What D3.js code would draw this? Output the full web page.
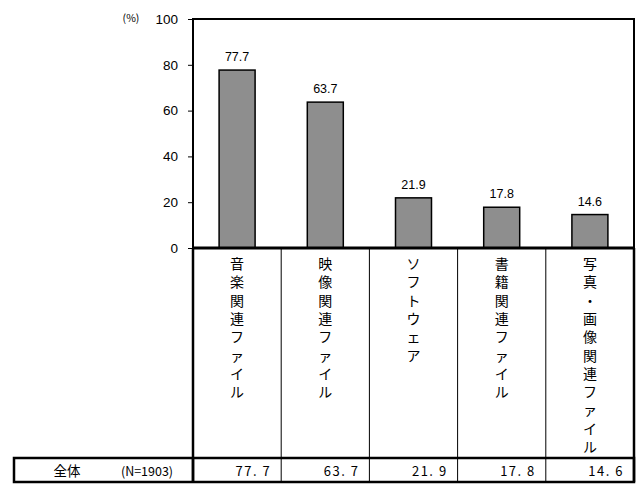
<!DOCTYPE html>
<html><head><meta charset="utf-8">
<script src="https://cdn.jsdelivr.net/npm/d3@7"></script>
<style>
html,body{margin:0;padding:0;background:#fff;}
svg{display:block;}
</style></head>
<body>
<svg id="c" width="640" height="486"></svg>
<script>
const categories = ["音楽関連ファイル", "映像関連ファイル", "ソフトウェア", "書籍関連ファイル", "写真・画像関連ファイル"];
const values = [77.7, 63.7, 21.9, 17.8, 14.6];
const yTicks = [0, 20, 40, 60, 80, 100];
const rowLabel = "全体";
const rowN = "(N=1903)";
const unitLabel = "(%)";

(function () {
const svg = d3.select("#c");
const pL = 193, pR = 634, pT = 19, pB = 248;
const tableTop = 458, tableBottom = 482, tableLeft = 14;
const latin = "'Liberation Sans', Arial, sans-serif";
const cjk = "'Noto Sans CJK JP', sans-serif";

const x = d3.scaleBand().domain(categories).range([pL, pR]).paddingInner(0).paddingOuter(0);
const y = d3.scaleLinear().domain([0, 100]).range([pB, pT]);
const barW = 36;

// Y axis
const yAxis = d3.axisLeft(y).tickValues(yTicks).tickSize(5).tickPadding(10);
const ga = svg.append("g").attr("transform", `translate(${pL},0)`).call(yAxis);
ga.select(".domain").remove();
ga.selectAll(".tick line").attr("stroke", "#000").attr("stroke-width", 1);
ga.selectAll(".tick text").attr("font-family", latin).attr("font-size", 13.5).attr("fill", "#000");

svg.append("text").attr("x", 131).attr("y", 22).attr("text-anchor", "middle")
  .attr("font-family", cjk).attr("font-size", 10.5).attr("fill", "#000").text(unitLabel);

// Bars
svg.append("g").selectAll("rect").data(values).join("rect")
  .attr("x", (d, i) => x(categories[i]) + x.bandwidth() / 2 - barW / 2)
  .attr("y", d => y(d))
  .attr("width", barW)
  .attr("height", d => y(0) - y(d))
  .attr("fill", "#8e8e8e").attr("stroke", "#000").attr("stroke-width", 1.5);

// Data labels
svg.append("g").selectAll("text").data(values).join("text")
  .attr("x", (d, i) => x(categories[i]) + x.bandwidth() / 2)
  .attr("y", d => y(d) - 9)
  .attr("text-anchor", "middle")
  .attr("font-family", latin).attr("font-size", 12.5).attr("fill", "#000")
  .text(d => d.toFixed(1));

// Plot frame
svg.append("rect").attr("x", pL).attr("y", pT).attr("width", pR - pL).attr("height", pB - pT)
  .attr("fill", "none").attr("stroke", "#000").attr("stroke-width", 2);
svg.append("line").attr("x1", pL).attr("x2", pR).attr("y1", pB).attr("y2", pB)
  .attr("stroke", "#000").attr("stroke-width", 3);

// Category label columns
const boundaries = categories.map(c => x(c)).concat([pR]);
svg.append("g").selectAll("line").data(boundaries).join("line")
  .attr("x1", d => d).attr("x2", d => d)
  .attr("y1", pB).attr("y2", tableBottom)
  .attr("stroke", "#000")
  .attr("stroke-width", (d, i) => (i === 0 || i === boundaries.length - 1) ? 2.5 : 1);

// Vertical category text
const step = 18.3;
const catG = svg.append("g");
categories.forEach(c => {
  const cx = x(c) + x.bandwidth() / 2;
  Array.from(c).forEach((ch, j) => {
    catG.append("text")
      .attr("x", cx).attr("y", 263 + j * step)
      .attr("text-anchor", "middle").attr("dominant-baseline", "central")
      .attr("font-family", cjk).attr("font-size", 14).attr("fill", "#000")
      .text(ch);
  });
});

// Table row
svg.append("rect").attr("x", tableLeft).attr("y", tableTop).attr("width", pR - tableLeft).attr("height", tableBottom - tableTop)
  .attr("fill", "none").attr("stroke", "#000").attr("stroke-width", 2.5);
svg.append("line").attr("x1", pL).attr("x2", pL).attr("y1", tableTop).attr("y2", tableBottom)
  .attr("stroke", "#000").attr("stroke-width", 2.5);

const ty = (tableTop + tableBottom) / 2;
svg.append("text").attr("x", 67).attr("y", ty).attr("dominant-baseline", "central").attr("text-anchor", "middle")
  .attr("font-family", cjk).attr("font-size", 13.5).attr("fill", "#000").text(rowLabel);
svg.append("text").attr("x", 147).attr("y", ty).attr("dominant-baseline", "central").attr("text-anchor", "middle")
  .attr("font-family", cjk).attr("font-size", 12.5).attr("fill", "#000").text(rowN);

svg.append("g").selectAll("text").data(values).join("text")
  .attr("x", (d, i) => x(categories[i]) + x.bandwidth() - 10)
  .attr("y", ty).attr("dominant-baseline", "central").attr("text-anchor", "end")
  .attr("font-family", cjk).attr("font-size", 13).attr("fill", "#000")
  .attr("letter-spacing", 1.5)
  .text(d => d.toFixed(1).replace(".", ". "));
})();
</script>
</body></html>
